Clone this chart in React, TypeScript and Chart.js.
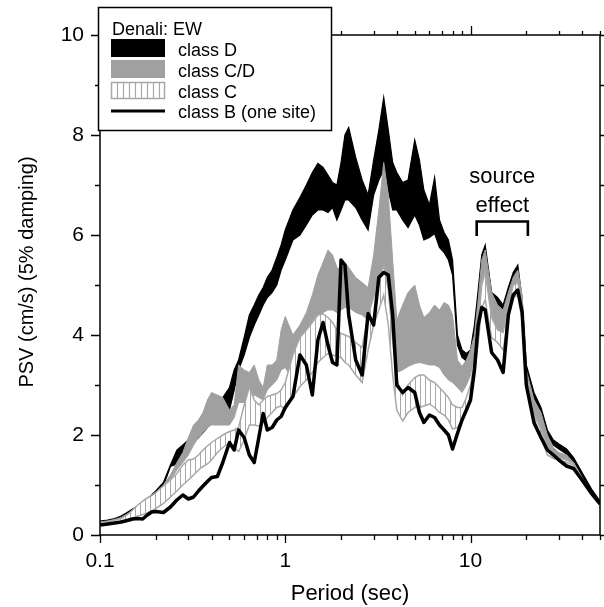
import React, { useEffect, useRef } from 'react';
import { Chart, registerables } from 'chart.js';

Chart.register(...registerables);

// ---------------- data ----------------
const periods = [0.1, 0.11, 0.12, 0.13, 0.14, 0.15, 0.16, 0.17, 0.18, 0.19, 0.2, 0.22, 0.24, 0.26, 0.28, 0.3, 0.32, 0.34, 0.36, 0.38, 0.4, 0.43, 0.46, 0.5, 0.53, 0.56, 0.6, 0.64, 0.68, 0.72, 0.76, 0.8, 0.85, 0.9, 0.95, 1.0, 1.1, 1.2, 1.3, 1.4, 1.5, 1.6, 1.7, 1.8, 1.9, 2.0, 2.1, 2.2, 2.4, 2.6, 2.8, 3.0, 3.2, 3.4, 3.6, 3.8, 4.0, 4.3, 4.6, 5.0, 5.3, 5.6, 6.0, 6.4, 6.8, 7.2, 7.6, 8.0, 8.5, 9.0, 9.5, 10, 10.5, 11, 11.5, 12, 13, 14, 15, 16, 17, 18, 19, 20, 22, 24, 26, 28, 30, 33, 36, 40, 45, 50];

const classDUpper = [0.28, 0.3, 0.33, 0.38, 0.45, 0.52, 0.58, 0.64, 0.72, 0.8, 0.88, 1.05, 1.4, 1.7, 1.8, 1.9, 2.0, 2.1, 2.2, 2.35, 2.5, 2.6, 2.75, 2.95, 3.3, 3.5, 3.95, 4.4, 4.6, 4.8, 4.95, 5.15, 5.3, 5.55, 5.8, 6.1, 6.5, 6.75, 7.0, 7.25, 7.43, 7.35, 7.2, 7.05, 7.0, 7.45, 8.0, 8.15, 7.55, 7.1, 6.8, 7.5, 8.1, 8.75, 8.1, 7.45, 7.25, 7.05, 7.1, 7.9, 7.5, 6.9, 6.6, 7.15, 6.3, 6.05, 5.9, 5.5, 4.0, 3.7, 3.63, 3.7, 4.2, 4.9, 5.6, 5.8, 4.85, 4.75, 4.6, 4.95, 5.25, 5.4, 4.7, 3.4, 2.85, 2.55, 2.1, 1.9, 1.82, 1.72, 1.55, 1.25, 0.92, 0.68];

const classDLower = [0.25, 0.27, 0.3, 0.34, 0.4, 0.47, 0.53, 0.59, 0.66, 0.74, 0.82, 0.98, 1.37, 1.42, 1.55, 1.7, 1.85, 1.95, 2.05, 2.15, 2.3, 2.4, 2.5, 2.5, 2.9, 3.3, 3.6, 3.95, 4.2, 4.4, 4.6, 4.75, 4.85, 5.0, 5.3, 5.5, 5.9, 6.0, 6.2, 6.4, 6.5, 6.5, 6.45, 6.55, 6.3, 6.5, 6.7, 6.7, 6.55, 6.3, 6.1, 6.8, 7.1, 7.3, 6.9, 6.5, 6.5, 6.3, 6.15, 6.4, 6.2, 5.9, 5.95, 6.03, 5.75, 5.65, 5.5, 5.2, 3.8, 3.55, 3.48, 3.55, 4.0, 4.75, 5.45, 5.6, 4.6, 4.55, 4.4, 4.75, 5.05, 5.2, 4.55, 3.25, 2.75, 2.45, 2.0, 1.8, 1.72, 1.62, 1.47, 1.18, 0.86, 0.64];

const classCDUpper = [0.26, 0.28, 0.31, 0.35, 0.42, 0.49, 0.55, 0.61, 0.68, 0.76, 0.84, 1.0, 1.2, 1.45, 1.65, 1.95, 2.2, 2.3, 2.45, 2.7, 2.85, 2.8, 2.75, 2.5, 2.6, 3.4, 3.3, 3.25, 3.4, 3.1, 2.95, 3.4, 3.4, 3.5, 4.1, 4.37, 4.0, 4.2, 4.45, 4.8, 5.2, 5.45, 5.7, 5.6, 5.35, 5.3, 5.45, 5.35, 5.15, 5.05, 4.95, 5.6, 6.5, 7.45, 6.8, 5.5, 4.3, 4.6, 4.85, 5.0, 4.6, 4.35, 4.45, 4.6, 4.5, 4.65, 4.6, 4.4, 3.5, 3.37, 3.5, 3.7, 4.0, 4.7, 5.5, 5.7, 4.85, 4.6, 4.5, 4.85, 5.15, 5.3, 4.8, 3.3, 2.7, 2.45, 2.0, 1.75, 1.65, 1.6, 1.45, 1.15, 0.85, 0.64];

const classCDLower = [0.24, 0.25, 0.27, 0.3, 0.34, 0.4, 0.46, 0.52, 0.58, 0.65, 0.72, 0.9, 1.1, 1.3, 1.45, 1.6, 1.8, 1.95, 2.05, 2.15, 2.2, 2.2, 2.2, 2.2, 2.35, 2.65, 2.65, 2.7, 2.8, 2.75, 2.7, 2.9, 3.0, 3.1, 3.3, 3.35, 3.1, 3.35, 3.5, 3.75, 4.2, 4.45, 4.5, 4.5, 4.45, 4.5, 4.55, 4.55, 4.45, 4.4, 4.3, 4.8, 5.2, 5.3, 5.0, 4.2, 3.25, 3.3, 3.37, 3.43, 3.45, 3.43, 3.4, 3.4, 3.35, 3.2, 3.1, 3.05, 2.95, 2.85, 3.0, 3.2, 3.6, 4.2, 5.0, 5.2, 4.3, 4.1, 4.05, 4.4, 4.85, 4.95, 4.45, 3.05, 2.45, 2.15, 1.8, 1.6, 1.55, 1.52, 1.42, 1.12, 0.82, 0.62];

const classCUpper = [0.25, 0.27, 0.3, 0.33, 0.4, 0.5, 0.6, 0.68, 0.74, 0.79, 0.85, 0.98, 1.1, 1.23, 1.4, 1.5, 1.52, 1.6, 1.7, 1.78, 1.85, 1.93, 2.0, 2.07, 2.1, 2.15, 2.6, 2.95, 2.7, 2.6, 2.7, 2.77, 2.8, 2.83, 2.9, 3.05, 3.6, 3.95, 4.1, 4.25, 4.4, 4.42, 4.35, 4.25, 4.1, 4.03, 4.0, 3.97, 3.85, 3.75, 4.4, 4.75, 5.05, 5.4, 4.9, 3.9, 3.1, 2.8, 3.0, 3.15, 3.2, 3.2, 3.1, 3.05, 2.95, 2.85, 2.75, 2.6, 2.55, 2.55, 2.75, 3.0, 3.5, 4.2, 5.0, 5.25, 4.35, 4.1, 4.05, 4.6, 5.0, 5.05, 4.55, 3.2, 2.4, 2.1, 1.75, 1.58, 1.55, 1.5, 1.43, 1.12, 0.82, 0.62];

const classCLower = [0.22, 0.23, 0.25, 0.27, 0.3, 0.34, 0.38, 0.41, 0.44, 0.48, 0.53, 0.63, 0.76, 0.88, 1.0, 1.1, 1.2, 1.3, 1.37, 1.42, 1.5, 1.65, 1.75, 1.85, 1.75, 1.67, 1.9, 2.2, 2.2, 2.18, 2.25, 2.35, 2.45, 2.55, 2.58, 2.5, 2.75, 2.97, 3.1, 3.25, 3.45, 3.55, 3.63, 3.6, 3.57, 3.55, 3.45, 3.4, 3.2, 3.05, 3.7, 4.2, 4.5, 4.8, 4.2, 3.2, 2.5, 2.28, 2.45, 2.55, 2.55, 2.58, 2.62, 2.55, 2.45, 2.4, 2.3, 2.12, 2.15, 2.3, 2.5, 2.75, 3.2, 3.85, 4.55, 4.7, 3.95, 3.85, 3.7, 4.35, 4.75, 4.8, 4.3, 3.0, 2.2, 1.95, 1.6, 1.53, 1.5, 1.45, 1.4, 1.08, 0.8, 0.6];

const classB = [0.2, 0.22, 0.24, 0.26, 0.29, 0.32, 0.33, 0.32, 0.4, 0.46, 0.47, 0.45, 0.56, 0.7, 0.8, 0.72, 0.76, 0.88, 0.98, 1.07, 1.15, 1.17, 1.45, 1.85, 1.7, 2.1, 1.95, 1.6, 1.45, 1.95, 2.43, 2.1, 2.15, 2.3, 2.37, 2.55, 2.77, 3.6, 3.4, 2.8, 3.9, 4.25, 3.8, 3.45, 3.4, 5.5, 5.4, 4.4, 3.5, 3.2, 4.43, 4.2, 5.15, 5.25, 5.2, 4.4, 3.0, 2.85, 2.95, 2.85, 2.45, 2.25, 2.4, 2.35, 2.2, 2.1, 2.0, 1.72, 2.03, 2.3, 2.5, 2.7, 3.3, 4.2, 4.55, 4.5, 3.65, 3.5, 3.25, 4.4, 4.8, 4.9, 4.45, 3.0, 2.25, 1.95, 1.7, 1.6, 1.5, 1.38, 1.33, 1.1, 0.83, 0.62];

const xTickValues = [0.1, 1, 10];
const yTickValues = [0, 2, 4, 6, 8, 10];
const xMin = 0.1;
const xMax = 50;
const yMin = 0;
const yMax = 10;

const xTitle = 'Period (sec)';
const yTitle = 'PSV (cm/s) (5% damping)';
const legendTitle = 'Denali: EW';
const legendLabels = ['class D', 'class C/D', 'class C', 'class B (one site)'];
const sourceRange = [10.8, 20.4];
const sourceBracketY = [6.27, 5.98];
const sourceText = ['source', 'effect'];
const sourceTextY = [7.04, 6.46];

// ---------------- styles ----------------
const FONT = '"Liberation Sans", Arial, Helvetica, sans-serif';
const GRAY_FILL = '#a0a0a0';
const C_LINE = '#a8a8a8';

function pts(arr: number[]) {
  return periods.map((p, i) => ({ x: p, y: arr[i] }));
}

const framePlugin = {
  id: 'framePlugin',
  afterDraw(chart: any) {
    const ctx = chart.ctx as CanvasRenderingContext2D;
    const xs = chart.scales.x;
    const ys = chart.scales.y;
    const { left, right, top, bottom } = chart.chartArea;
    ctx.save();
    ctx.strokeStyle = '#000';
    ctx.lineWidth = 1.5;
    ctx.beginPath();
    ctx.moveTo(left, top);
    ctx.lineTo(left, bottom);
    ctx.lineTo(right, bottom);
    ctx.lineTo(right, top);
    ctx.lineTo(left, top);
    ctx.stroke();

    // x ticks (bottom & top)
    ctx.lineWidth = 1.3;
    ctx.beginPath();
    [0.1, 1, 10].forEach((dec) => {
      for (let m = 1; m <= 9; m++) {
        const v = m * dec;
        if (v > xMax + 1e-9) continue;
        const px = Math.round(xs.getPixelForValue(v)) + 0.5;
        const major = m === 1;
        ctx.moveTo(px, bottom);
        ctx.lineTo(px, bottom + (major ? 8 : 5));
        ctx.moveTo(px, top);
        ctx.lineTo(px, top - (major ? 9 : 4));
      }
    });
    // y ticks (left & right)
    for (let v = yMin; v <= yMax; v++) {
      const py = Math.round(ys.getPixelForValue(v)) + 0.5;
      ctx.moveTo(left - (v % 2 === 0 ? 9 : 5), py);
      ctx.lineTo(left, py);
      ctx.moveTo(right, py);
      ctx.lineTo(right + 4, py);
    }
    ctx.stroke();

    // source effect annotation
    const bx0 = xs.getPixelForValue(sourceRange[0]);
    const bx1 = xs.getPixelForValue(sourceRange[1]);
    const byTop = ys.getPixelForValue(sourceBracketY[0]);
    const byBot = ys.getPixelForValue(sourceBracketY[1]);
    ctx.lineWidth = 2.6;
    ctx.lineJoin = 'miter';
    ctx.beginPath();
    ctx.moveTo(bx0, byBot);
    ctx.lineTo(bx0, byTop);
    ctx.lineTo(bx1, byTop);
    ctx.lineTo(bx1, byBot);
    ctx.stroke();
    const cx = xs.getPixelForValue(Math.sqrt(sourceRange[0] * sourceRange[1]));
    ctx.fillStyle = '#000';
    ctx.font = `22px ${FONT}`;
    ctx.textAlign = 'center';
    ctx.textBaseline = 'alphabetic';
    ctx.fillText(sourceText[0], cx, ys.getPixelForValue(sourceTextY[0]));
    ctx.fillText(sourceText[1], cx, ys.getPixelForValue(sourceTextY[1]));

    // axis titles
    ctx.font = `22px ${FONT}`;
    ctx.fillText(xTitle, (left + right) / 2, 600);
    ctx.save();
    ctx.translate(33, 272);
    ctx.rotate(-Math.PI / 2);
    ctx.font = `20px ${FONT}`;
    ctx.fillText(yTitle, 0, 0);
    ctx.restore();

    // legend
    const lx = 98, ly = 7, lw = 233, lh = 123;
    ctx.fillStyle = '#fff';
    ctx.fillRect(lx, ly, lw, lh);
    ctx.lineWidth = 1.5;
    ctx.strokeStyle = '#000';
    ctx.strokeRect(lx + 0.5, ly + 0.5, lw, lh);
    ctx.fillStyle = '#000';
    ctx.font = `18px ${FONT}`;
    ctx.textAlign = 'left';
    ctx.fillText(legendTitle, 112, 35);
    // swatches
    ctx.fillStyle = '#000';
    ctx.fillRect(111, 39, 54, 18);
    ctx.fillStyle = GRAY_FILL;
    ctx.fillRect(111, 60, 54, 18);
    ctx.fillStyle = '#fff';
    ctx.fillRect(111, 82, 54, 17);
    ctx.strokeStyle = C_LINE;
    ctx.lineWidth = 1.2;
    ctx.beginPath();
    for (let x = 117; x < 165; x += 6) {
      ctx.moveTo(x + 0.5, 82);
      ctx.lineTo(x + 0.5, 99);
    }
    ctx.stroke();
    ctx.lineWidth = 1.5;
    ctx.strokeRect(111.5, 82.5, 53, 16);
    ctx.strokeStyle = '#000';
    ctx.lineWidth = 3;
    ctx.beginPath();
    ctx.moveTo(111, 111);
    ctx.lineTo(165, 111);
    ctx.stroke();
    ctx.fillStyle = '#000';
    ctx.fillText(legendLabels[0], 178, 56);
    ctx.fillText(legendLabels[1], 178, 77);
    ctx.fillText(legendLabels[2], 178, 97.5);
    ctx.fillText(legendLabels[3], 178, 117.5);
    ctx.restore();
  },
};

export default function App() {
  const canvasRef = useRef<HTMLCanvasElement | null>(null);

  useEffect(() => {
    const canvas = canvasRef.current;
    if (!canvas) return;
    const ctx = canvas.getContext('2d')!;

    const pc = document.createElement('canvas');
    pc.width = 5;
    pc.height = 5;
    const g = pc.getContext('2d')!;
    g.fillStyle = '#fff';
    g.fillRect(0, 0, 5, 5);
    g.fillStyle = '#a8a8a8';
    g.fillRect(0, 0, 1, 5);
    const hatch = ctx.createPattern(pc, 'repeat');

    const tickFont = { family: FONT, size: 21 };

    const chart = new Chart(ctx, {
      type: 'line',
      data: {
        datasets: [
          { label: 'D lower', data: pts(classDLower), borderColor: '#000', borderWidth: 1.2, fill: false, order: 10 },
          { label: 'D upper', data: pts(classDUpper), borderColor: '#000', borderWidth: 1.2, backgroundColor: '#000', fill: '-1', order: 9 },
          { label: 'C/D lower', data: pts(classCDLower), borderColor: GRAY_FILL, borderWidth: 1, fill: false, order: 8 },
          { label: 'C/D upper', data: pts(classCDUpper), borderColor: GRAY_FILL, borderWidth: 1, backgroundColor: GRAY_FILL, fill: '-1', order: 7 },
          { label: 'C lower', data: pts(classCLower), borderColor: C_LINE, borderWidth: 1.5, fill: false, order: 5 },
          { label: 'C upper', data: pts(classCUpper), borderColor: C_LINE, borderWidth: 1.5, backgroundColor: hatch as any, fill: '-1', order: 6 },
          { label: 'B', data: pts(classB), borderColor: '#000', borderWidth: 3.5, fill: false, order: 1, borderJoinStyle: 'round' },
        ] as any,
      },
      options: {
        animation: false,
        responsive: false,
        maintainAspectRatio: false,
        layout: { padding: { left: 0, right: 4, top: 35, bottom: 0 } },
        elements: { point: { radius: 0, hoverRadius: 0 }, line: { tension: 0 } },
        plugins: {
          legend: { display: false },
          tooltip: { enabled: false },
          title: { display: false },
        },
        events: [],
        scales: {
          x: {
            type: 'logarithmic',
            min: xMin,
            max: xMax,
            grid: { display: false, drawTicks: false },
            border: { display: false },
            afterBuildTicks: (s: any) => {
              s.ticks = xTickValues.map((v) => ({ value: v, major: true }));
            },
            afterFit: (s: any) => {
              s.height = 72;
            },
            ticks: {
              autoSkip: false,
              maxRotation: 0,
              minRotation: 0,
              padding: 14,
              color: '#000',
              font: tickFont,
              callback: (v: any) => String(v),
            },
          },
          y: {
            type: 'linear',
            min: yMin,
            max: yMax,
            grid: { display: false, drawTicks: false },
            border: { display: false },
            afterBuildTicks: (s: any) => {
              s.ticks = yTickValues.map((v) => ({ value: v }));
            },
            afterFit: (s: any) => {
              s.width = 100;
            },
            ticks: {
              padding: 16,
              color: '#000',
              font: tickFont,
              callback: (v: any) => String(v),
            },
          },
        },
      } as any,
      plugins: [framePlugin],
    });

    return () => {
      chart.destroy();
    };
  }, []);

  return (
    <div style={{ position: 'fixed', left: 0, top: 0, width: 604, height: 607, background: '#fff' }}>
      <canvas ref={canvasRef} width={604} height={607} style={{ display: 'block', width: 604, height: 607 }} />
    </div>
  );
}
